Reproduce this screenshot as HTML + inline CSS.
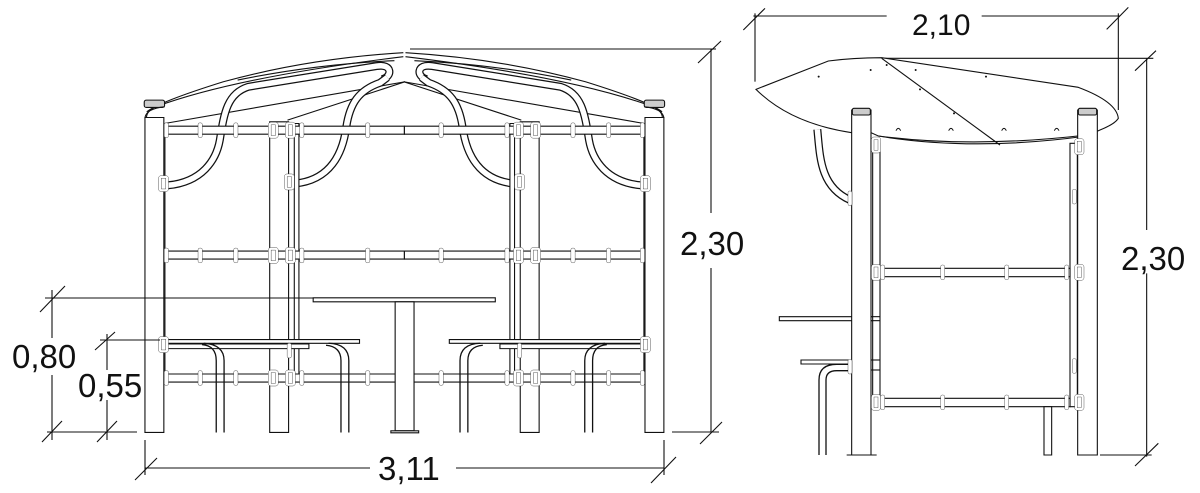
<!DOCTYPE html>
<html><head><meta charset="utf-8"><style>
html,body{margin:0;padding:0;background:#fff;}
svg{display:block;}
text{font-family:"Liberation Sans","DejaVu Sans",sans-serif;fill:#111;}
.s *{vector-effect:non-scaling-stroke;}
</style></head><body>
<svg width="1200" height="493" viewBox="0 0 1200 493" xmlns="http://www.w3.org/2000/svg">
<defs>
  <g id="clS"><rect x="-6" y="-22" width="12" height="44" rx="5" fill="#fff" stroke="#111"/></g>
  <g id="clB"><rect x="-14" y="-24" width="28" height="48" rx="8" fill="#fff" stroke="#111"/><rect x="-6" y="-16" width="12" height="32" fill="none" stroke="#111"/></g>
</defs>

<g class="s" transform="matrix(0.3564,0,0,0.334,130.7,40)" fill="none" stroke="#111" stroke-width="1.1">
  <g id="half">
    <path d="M45,215 Q80,185 260,125 Q500,55 765,38" />
    <path d="M45,240 Q40,215 70,200 Q300,110 765,50"/>
    <path d="M95,250 L770,125"/>
    <path d="M440,240 L770,125"/>
    <path d="M300,120 Q520,72 740,62" />
    <path d="M105,435 C200,425 240,360 250,300 C262,220 270,160 330,140 L690,78 C735,70 735,110 705,118" stroke-width="8"/>
    <path d="M105,435 C200,425 240,360 250,300 C262,220 270,160 330,140 L690,78 C735,70 735,110 705,118" stroke="#fff" stroke-width="5.5"/>
    <path d="M460,430 C560,420 595,340 605,260 C615,190 640,150 700,128 L720,112" stroke-width="8"/>
    <path d="M460,430 C560,420 595,340 605,260 C615,190 640,150 700,128 L720,112" stroke="#fff" stroke-width="5.5"/>
    <rect x="40" y="232" width="53" height="943" fill="#fff"/>
    <rect x="38" y="180" width="57" height="22" rx="6" fill="#ccc"/>
    <path d="M40,232 Q45,205 95,200"/>
    <line x1="96" y1="260" x2="96" y2="1010"/>
    <rect x="390" y="245" width="53" height="930" fill="#fff"/>
    <rect x="459" y="250" width="13" height="770" fill="#fff"/>
    <rect x="100" y="258" width="668" height="24" fill="#fff"/>
    <rect x="100" y="632" width="668" height="24" fill="#fff"/>
    <rect x="100" y="1000" width="668" height="24" fill="#fff"/>
    <rect x="88" y="897" width="554" height="11" fill="#fff"/>
    <rect x="100" y="910" width="400" height="14" fill="#fff"/>
    <path d="M240,1175 L240,960 Q240,915 200,912 M262,1175 L262,960 Q262,912 205,908" stroke-width="1.3"/>
    <path d="M590,1175 L590,960 Q590,918 548,914 M612,1175 L612,960 Q612,910 555,908" stroke-width="1.3"/>
    <g stroke-width="1">
      <use href="#clS" x="100" y="270"/><use href="#clS" x="195" y="270"/><use href="#clS" x="295" y="270"/>
      <use href="#clB" x="400" y="270"/><use href="#clB" x="448" y="270"/><use href="#clS" x="480" y="270"/><use href="#clS" x="665" y="270"/>
      <use href="#clS" x="100" y="645"/><use href="#clS" x="195" y="645"/><use href="#clS" x="295" y="645"/>
      <use href="#clB" x="400" y="645"/><use href="#clB" x="448" y="645"/><use href="#clS" x="480" y="645"/><use href="#clS" x="665" y="645"/>
      <use href="#clS" x="100" y="1012"/><use href="#clS" x="195" y="1012"/><use href="#clS" x="295" y="1012"/>
      <use href="#clB" x="400" y="1012"/><use href="#clB" x="448" y="1012"/><use href="#clS" x="480" y="1012"/><use href="#clS" x="665" y="1012"/>
      <use href="#clB" x="92" y="430"/><use href="#clB" x="445" y="425"/>
      <use href="#clB" x="92" y="912"/><use href="#clS" x="445" y="930"/>
    </g>
  </g>
  <use href="#half" transform="translate(1536,0) scale(-1,1)"/>
  <rect x="512" y="772" width="511" height="12" fill="#fff"/>
  <rect x="742" y="784" width="53" height="386" fill="#fff"/>
  <rect x="730" y="1170" width="78" height="6" fill="#fff"/>
</g>

<g stroke="#111" stroke-width="1.1" fill="none">
  <line x1="45" y1="298" x2="314" y2="298"/>
  <line x1="52" y1="290" x2="52" y2="338"/><line x1="52" y1="375" x2="52" y2="440"/>
  <line x1="40" y1="312" x2="65" y2="286"/><line x1="42" y1="442" x2="62" y2="421"/>
  <line x1="100" y1="340" x2="160" y2="340"/>
  <line x1="107" y1="334" x2="107" y2="370"/><line x1="107" y1="400" x2="107" y2="440"/>
  <line x1="95" y1="350" x2="115" y2="332"/><line x1="97" y1="442" x2="117" y2="421"/>
  <line x1="47" y1="432" x2="137" y2="432"/>
  <line x1="145" y1="440" x2="145" y2="475"/><line x1="664" y1="440" x2="664" y2="475"/>
  <line x1="145" y1="468" x2="370" y2="468"/><line x1="456" y1="468" x2="664" y2="468"/>
  <line x1="135" y1="480" x2="157" y2="458"/><line x1="651" y1="483" x2="676" y2="457"/>
  <line x1="410" y1="49" x2="716" y2="49"/>
  <line x1="711" y1="49" x2="711" y2="213"/><line x1="711" y1="268" x2="711" y2="432"/>
  <line x1="672" y1="432" x2="719" y2="432"/>
  <line x1="698" y1="63" x2="721" y2="41"/><line x1="700" y1="444" x2="722" y2="422"/>
</g>
<text x="12" y="368" font-size="33">0,80</text>
<text x="78" y="397" font-size="33">0,55</text>
<text x="378" y="480" font-size="33">3,11</text>
<text x="680" y="255" font-size="33">2,30</text>

<g class="s" transform="translate(740,0) scale(0.33333)" fill="none" stroke="#111" stroke-width="1.1">
  <line x1="40" y1="48" x2="440" y2="48"/><line x1="725" y1="48" x2="1140" y2="48"/>
  <line x1="45" y1="40" x2="45" y2="245"/><line x1="1135" y1="40" x2="1135" y2="330"/>
  <line x1="10" y1="90" x2="75" y2="25"/><line x1="1100" y1="88" x2="1165" y2="22"/>
  <line x1="420" y1="175" x2="1240" y2="175"/>
  <line x1="1220" y1="175" x2="1220" y2="690"/><line x1="1220" y1="820" x2="1220" y2="1370"/>
  <line x1="1080" y1="1365" x2="1235" y2="1365"/>
  <line x1="1185" y1="212" x2="1248" y2="152"/><line x1="1185" y1="1398" x2="1255" y2="1330"/>
  <path d="M232,388 C240,470 240,560 330,600" stroke-width="8"/>
  <path d="M232,388 C240,470 240,560 330,600" stroke="#fff" stroke-width="5.5"/>
  <rect x="118" y="950" width="300" height="12" fill="#fff"/>
  <rect x="183" y="1080" width="152" height="12" fill="#fff"/>
  <path d="M237,1365 L237,1140 Q237,1093 290,1093 L330,1093 M258,1365 L258,1140 Q258,1112 290,1112 L330,1112" stroke-width="1.3"/>
  <path d="M48,268 Q120,240 265,183 Q340,173 425,173 L1015,262 Q1130,305 1135,355 Q1125,372 1080,390 L1040,408 Q700,455 415,408 L393,398 L335,398 Q150,370 48,268 Z" fill="#fff"/>
  <line x1="425" y1="175" x2="780" y2="435"/>
  <path d="M415,408 Q700,445 1040,405"/>
  <rect x="335" y="330" width="58" height="1035" fill="#fff"/>
  <rect x="337" y="325" width="54" height="20" rx="5" fill="#ccc"/>
  <rect x="1013" y="330" width="59" height="1035" fill="#fff"/>
  <rect x="1015" y="325" width="55" height="20" rx="5" fill="#ccc"/>
  <line x1="320" y1="1365" x2="410" y2="1365"/>
  <rect x="398" y="430" width="22" height="790" fill="#fff"/>
  <rect x="990" y="430" width="22" height="790" fill="#fff"/>
  <rect x="420" y="805" width="570" height="25" fill="#fff"/>
  <rect x="420" y="1195" width="570" height="25" fill="#fff"/>
  <rect x="912" y="1220" width="23" height="145" fill="#fff"/>
  <line x1="393" y1="950" x2="420" y2="950"/><line x1="393" y1="962" x2="420" y2="962"/>
  <line x1="393" y1="1080" x2="420" y2="1080"/><line x1="393" y1="1110" x2="420" y2="1110"/>
  <g stroke-width="1">
    <use href="#clS" x="428" y="817"/><use href="#clS" x="608" y="817"/><use href="#clS" x="800" y="817"/><use href="#clS" x="980" y="817"/>
    <use href="#clB" x="1018" y="817"/><use href="#clB" x="408" y="817"/>
    <use href="#clS" x="428" y="1207"/><use href="#clS" x="608" y="1207"/><use href="#clS" x="800" y="1207"/><use href="#clS" x="980" y="1207"/>
    <use href="#clB" x="1018" y="1207"/><use href="#clB" x="408" y="1207"/>
    <use href="#clB" x="408" y="435"/><use href="#clB" x="1018" y="440"/>
    <use href="#clS" x="1003" y="590"/><use href="#clS" x="1003" y="1098"/>
    <use href="#clS" x="330" y="595"/><use href="#clS" x="330" y="1100"/>
  </g>
  <g fill="#111" stroke="none">
    <circle cx="236" cy="230" r="3"/><circle cx="392" cy="210" r="3"/><circle cx="440" cy="195" r="3"/><circle cx="527" cy="210" r="3"/>
    <circle cx="738" cy="230" r="3"/><circle cx="540" cy="268" r="3"/><circle cx="642" cy="340" r="3"/>
  </g>
  <g stroke-width="1">
    <path d="M468,392 Q475,378 482,392"/><path d="M626,392 Q633,378 640,392"/><path d="M785,392 Q792,378 799,392"/><path d="M943,392 Q950,378 957,392"/>
  </g>
</g>
<text x="912" y="35" font-size="30">2,10</text>
<text x="1121" y="270" font-size="33">2,30</text>
</svg>
</body></html>
